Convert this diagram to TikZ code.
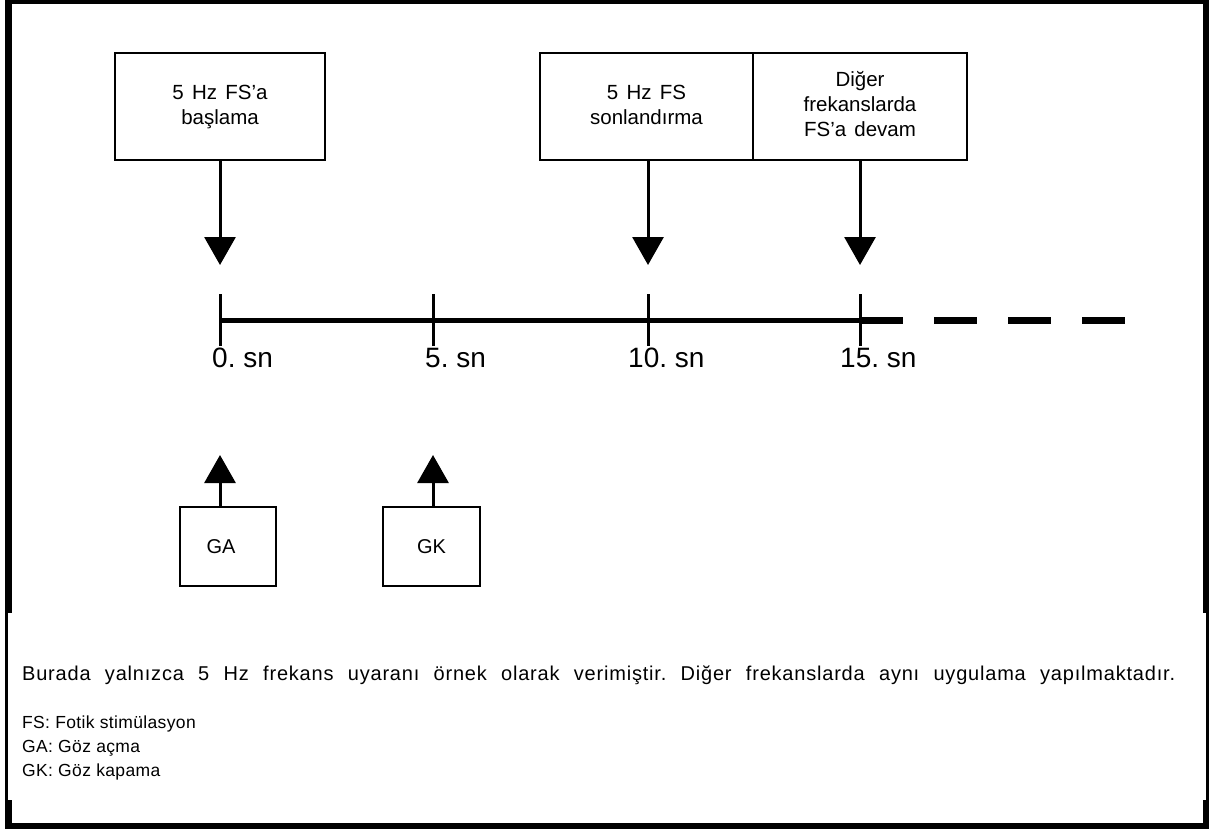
\documentclass[tikz,border=0pt]{standalone}
\usepackage{fontspec}
\setmainfont{Liberation Sans}
\usetikzlibrary{arrows.meta}
\frenchspacing
\newlength{\boxshift}
\newcommand{\boxlines}[2]{\setlength{\boxshift}{#1}\spaceskip=0.4em plus 0.1em\relax
  \raisebox{\boxshift}{\begin{tabular}{@{}c@{}}#2\end{tabular}}}
\begin{document}
\begin{tikzpicture}[x=1pt,y=-1pt,
  evbox/.style={draw,line width=2pt,minimum width=212pt,minimum height=107pt,inner sep=0pt,
    font=\fontsize{20.5}{25}\selectfont},
  eyebox/.style={draw,line width=2pt,minimum width=96pt,minimum height=79pt,inner sep=0pt,
    font=\fontsize{20}{24}\selectfont},
  bigarrow/.style={line width=3pt,-{Triangle[length=28pt,width=31pt]}},
  tickmark/.style={line width=3pt},
  ticklabel/.style={anchor=base west,inner sep=0pt,font=\fontsize{28}{30}\selectfont},
  notetext/.style={anchor=base west,inner sep=0pt,font=\fontsize{17.5}{20}\selectfont\addfontfeature{LetterSpace=2}}]
\useasboundingbox (0,0) rectangle (1215,830);
% frame: thick upper part, thin sides below, thick bottom corners
\fill (5,0) rectangle (1209,4);
\fill (5,0) rectangle (12,613);
\fill (1203,0) rectangle (1209,613);
\fill (5,613) rectangle (8,823);
\fill (1206,613) rectangle (1209,829);
\fill (5,800) rectangle (12,823);
\fill (1203,800) rectangle (1209,829);
\fill (5,823) rectangle (1209,829);

% time axis
\coordinate (t0) at (220,320);
\coordinate (t1) at (433,320);
\coordinate (t2) at (648,320);
\coordinate (t3) at (860,320);
\coordinate (tend) at (1125,320);
\draw[line width=5pt] (t0) -- (t3);
\draw[line width=7pt,dash pattern=on 43pt off 31pt] (t3) -- (tend);
\foreach \t in {t0,t1,t2,t3}
  \draw[tickmark] ([yshift=-26pt]\t) -- ([yshift=26pt]\t);
\node[ticklabel] (l0) at (212,367) {0. sn};
\node[ticklabel] (l1) at (425,367) {5. sn};
\node[ticklabel] (l2) at (628,367) {10. sn};
\node[ticklabel] (l3) at (840,367) {15. sn};

% events above the axis
\node[evbox,minimum width=210pt] (start) at (220,106.5) {\boxlines{-4pt}{5 Hz FS’a\\başlama}};
\node[evbox,minimum width=213pt] (stop) at (646.5,106.5) {\boxlines{-3pt}{5 Hz FS\\sonlandırma}};
\node[evbox,minimum width=214pt] (cont) at (860,106.5) {\boxlines{5pt}{Diğer\\frekanslarda\\FS’a devam}};
\coordinate (a0) at (220,265);
\coordinate (a2) at (648,265);
\coordinate (a3) at (860,265);
\draw[bigarrow] (start.south) -- (a0);
\draw[bigarrow] (stop.south -| a2) -- (a2);
\draw[bigarrow] (cont.south) -- (a3);

% eye events below the axis
\node[eyebox] (ga) at (227.5,546.5) {\hspace*{-13pt}GA};
\node[eyebox,minimum width=97pt] (gk) at (431.5,546.5) {GK};
\coordinate (b0) at (220,455);
\coordinate (b1) at (433,455);
\draw[bigarrow] (ga.north -| b0) -- (b0);
\draw[bigarrow] (gk.north -| b1) -- (b1);

% notes
\node[notetext] (n0) at (22,680) {\fontsize{20}{22}\selectfont\addfontfeature{LetterSpace=4}\makebox[1153pt][s]{Burada yalnızca 5 Hz frekans uyaranı örnek olarak verimiştir. Diğer frekanslarda aynı uygulama yapılmaktadır.}};
\node[notetext] (n1) at (22,728) {FS: Fotik stimülasyon};
\node[notetext] (n2) at (22,752) {GA: Göz açma};
\node[notetext] (n3) at (22,776) {GK: Göz kapama};
\end{tikzpicture}
\end{document}
